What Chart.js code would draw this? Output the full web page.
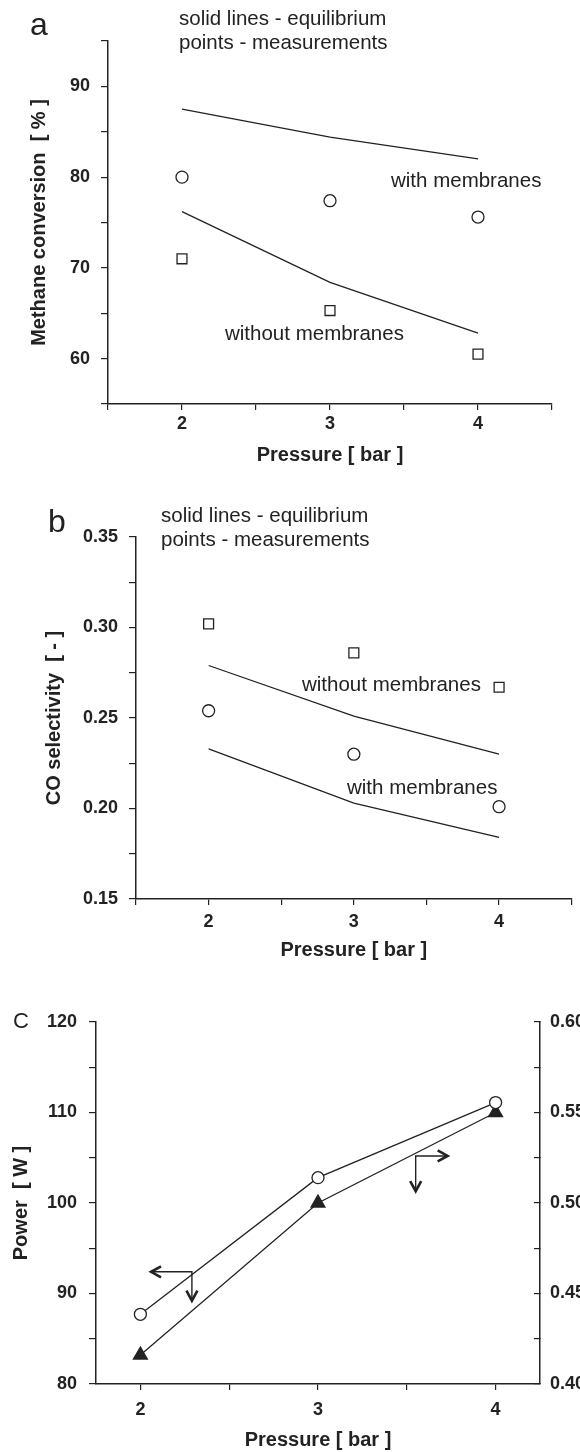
<!DOCTYPE html>
<html>
<head>
<meta charset="utf-8">
<script src="https://cdn.jsdelivr.net/npm/chart.js@4.4.1/dist/chart.umd.min.js"></script>
<style>
  html, body { margin: 0; padding: 0; background: #fff; }
  .panel { width: 580px; overflow: hidden; }
  canvas { display: block; }
</style>
</head>
<body>
<div class="panel" style="height:470px"><canvas id="chartA" width="580" height="470"></canvas></div>
<div class="panel" style="height:492px"><canvas id="chartB" width="580" height="492"></canvas></div>
<div class="panel" style="height:490px"><canvas id="chartC" width="640" height="490"></canvas></div>
<script>
// pressure points shared by all three panels [bar]
const pressure = [2, 3, 4];

// (a) methane conversion [%]
const convEqWith = [87.5, 84.4, 82.0];
const convEqWithout = [76.2, 68.4, 62.8];
const convMeasWith = [80.0, 77.4, 75.6];
const convMeasWithout = [71.0, 65.3, 60.5];

// (b) CO selectivity [-]
const selEqWithout = [0.279, 0.251, 0.230];
const selEqWith = [0.233, 0.203, 0.184];
const selMeasWithout = [0.302, 0.286, 0.267];
const selMeasWith = [0.254, 0.230, 0.201];

// (c) power [W] on the left axis, second quantity on the right axis
const powerW = [87.7, 102.8, 111.1];
const rightValues = [0.416, 0.500, 0.550];

// ticks and their labels
const xTicksAB = [1.5, 2, 2.5, 3, 3.5, 4, 4.5];
const xLabelsAB = ['', '2', '', '3', '', '4', ''];
const xTicksC = [2, 2.5, 3, 3.5, 4];
const xLabelsC = ['2', '', '3', '', '4'];
const yTicksA = [55, 60, 65, 70, 75, 80, 85, 90, 95];
const yLabelsA = ['', '60', '', '70', '', '80', '', '90', ''];
const yTicksB = [0.15, 0.175, 0.2, 0.225, 0.25, 0.275, 0.3, 0.325, 0.35];
const yLabelsB = ['0.15', '', '0.20', '', '0.25', '', '0.30', '', '0.35'];
const yTicksC = [80, 85, 90, 95, 100, 105, 110, 115, 120];
const yLabelsC = ['80', '', '90', '', '100', '', '110', '', '120'];
const y2TicksC = [0.4, 0.425, 0.45, 0.475, 0.5, 0.525, 0.55, 0.575, 0.6];
const y2LabelsC = ['0.40', '', '0.45', '', '0.50', '', '0.55', '', '0.60'];

// arrows in panel c (data units): corner, horizontal end, vertical end
const arrowsC = [
    { x: 2.29, y: 92.4, toX: 2.06, toY: 89.2 },
    { x: 3.55, y: 105.2, toX: 3.73, toY: 101.3 },
];

const ink = '#222';
const family = "'Liberation Sans', Arial, Helvetica, sans-serif";
const tickFont = { family, size: 18, weight: 'bold' };
const titleFont = { family, size: 20, weight: 'bold' };
const noteFont = `20.5px ${family}`;

// free text on each panel (canvas pixels, alphabetic baseline)
const notesA = [
    { text: 'a', x: 30, y: 35, font: `32px ${family}` },
    { text: 'solid lines - equilibrium', x: 179, y: 25 },
    { text: 'points - measurements', x: 179, y: 49 },
    { text: 'with membranes', x: 391, y: 187 },
    { text: 'without membranes', x: 225, y: 340 },
];
const notesB = [
    { text: 'b', x: 48, y: 62, font: `32px ${family}` },
    { text: 'solid lines - equilibrium', x: 161, y: 52 },
    { text: 'points - measurements', x: 161, y: 76 },
    { text: 'without membranes', x: 302, y: 221 },
    { text: 'with membranes', x: 347, y: 324 },
];
const notesC = [
    { text: 'C', x: 13, y: 66, font: `22px ${family}` },
];

function pts(values) {
    return pressure.map((p, i) => ({ x: p, y: values[i] }));
}

function lineSet(values, yAxisID = 'y') {
    return { data: pts(values), showLine: true, borderColor: ink, borderWidth: 1.3, pointRadius: 0, yAxisID };
}

function markSet(values, style, radius, fill, showLine, yAxisID = 'y') {
    return {
        data: pts(values), showLine, borderColor: ink, borderWidth: 1.3,
        pointStyle: style, pointRadius: radius, pointBackgroundColor: fill,
        pointBorderColor: ink, pointBorderWidth: 1.3, yAxisID,
    };
}

function axis(o) {
    const vertical = o.position === 'left' || o.position === 'right';
    return {
        type: 'linear',
        position: o.position,
        min: o.min,
        max: o.max,
        afterBuildTicks: s => { s.ticks = o.ticks.map(v => ({ value: v })); },
        afterFit: s => { if (vertical) s.width = o.size; else s.height = o.size; },
        ticks: {
            autoSkip: false, maxRotation: 0, padding: o.pad, color: ink, font: tickFont,
            callback: (v, i) => o.labels[i],
        },
        grid: { drawOnChartArea: false, drawTicks: true, tickLength: o.tickLength ?? 6, color: ink, lineWidth: 1.2 },
        border: { display: true, color: ink, width: 1.5 },
        title: o.title
            ? { display: true, text: o.title, color: ink, font: titleFont, padding: o.titlePad }
            : { display: false },
    };
}

function notesPlugin(notes) {
    return {
        id: 'notes',
        afterDraw(chart) {
            const ctx = chart.ctx;
            ctx.save();
            ctx.fillStyle = ink;
            ctx.textAlign = 'left';
            ctx.textBaseline = 'alphabetic';
            notes.forEach(n => {
                ctx.font = n.font || noteFont;
                ctx.fillText(n.text, n.x, n.y);
            });
            ctx.restore();
        }
    };
}

// bold open arrow head pointing along (dx, dy)
function arrowHead(ctx, x, y, dx, dy) {
    const len = 10, half = 5.5;
    ctx.beginPath();
    ctx.moveTo(x - dx * len - dy * half, y - dy * len + dx * half);
    ctx.lineTo(x, y);
    ctx.lineTo(x - dx * len + dy * half, y - dy * len - dx * half);
    ctx.lineWidth = 2.6;
    ctx.lineJoin = 'miter';
    ctx.stroke();
}

const arrowPlugin = {
    id: 'arrows',
    afterDatasetsDraw(chart) {
        const { ctx, scales: { x, y } } = chart;
        ctx.save();
        ctx.strokeStyle = ink;
        arrowsC.forEach(a => {
            const px = x.getPixelForValue(a.x), py = y.getPixelForValue(a.y);
            const hx = x.getPixelForValue(a.toX), vy = y.getPixelForValue(a.toY);
            ctx.lineWidth = 1.4;
            ctx.beginPath();
            ctx.moveTo(hx, py);
            ctx.lineTo(px, py);
            ctx.lineTo(px, vy);
            ctx.stroke();
            arrowHead(ctx, hx, py, Math.sign(hx - px), 0);
            arrowHead(ctx, px, vy, 0, 1);
        });
        ctx.restore();
    }
};

const baseOptions = {
    responsive: false,
    animation: false,
    devicePixelRatio: 1,
    events: [],
    plugins: { legend: { display: false }, tooltip: { enabled: false } },
};

// (a) methane conversion
new Chart(document.getElementById('chartA'), {
    type: 'scatter',
    data: {
        datasets: [
            lineSet(convEqWith),
            lineSet(convEqWithout),
            markSet(convMeasWith, 'circle', 6, '#fff', false),
            markSet(convMeasWithout, 'rect', 7, '#fff', false),
        ]
    },
    options: {
        ...baseOptions,
        layout: { padding: { top: 41, right: 28, left: 0, bottom: 0 } },
        scales: {
            x: axis({ position: 'bottom', min: 1.5, max: 4.5, ticks: xTicksAB, labels: xLabelsAB, size: 66, pad: 3,
                      title: 'Pressure [ bar ]', titlePad: { top: 0, bottom: 3 } }),
            y: axis({ position: 'left', min: 55, max: 95, ticks: yTicksA, labels: yLabelsA, size: 108, pad: 11, tickLength: 7,
                      title: 'Methane conversion  [ % ]', titlePad: { top: 27, bottom: 0 } }),
        }
    },
    plugins: [notesPlugin(notesA)]
});

// (b) CO selectivity
new Chart(document.getElementById('chartB'), {
    type: 'scatter',
    data: {
        datasets: [
            lineSet(selEqWithout),
            lineSet(selEqWith),
            markSet(selMeasWithout, 'rect', 7, '#fff', false),
            markSet(selMeasWith, 'circle', 6, '#fff', false),
        ]
    },
    options: {
        ...baseOptions,
        layout: { padding: { top: 67, right: 0, left: 0, bottom: 0 } },
        scales: {
            x: axis({ position: 'bottom', min: 1.5, max: 4.5, ticks: xTicksAB, labels: xLabelsAB, size: 63, pad: 6,
                      title: 'Pressure [ bar ]', titlePad: { top: 0, bottom: 0 } }),
            y: axis({ position: 'left', min: 0.15, max: 0.35, ticks: yTicksB, labels: yLabelsB, size: 136, pad: 11, tickLength: 7,
                      title: 'CO selectivity  [ - ]', titlePad: { top: 42, bottom: 0 } }),
        }
    },
    plugins: [notesPlugin(notesB)]
});

// (c) power, with a second axis on the right
new Chart(document.getElementById('chartC'), {
    type: 'scatter',
    data: {
        datasets: [
            markSet(powerW, 'circle', 6, '#fff', true, 'y'),
            markSet(rightValues, 'triangle', 8, ink, true, 'y2'),
        ]
    },
    options: {
        ...baseOptions,
        layout: { padding: { top: 60, right: 0, left: 0, bottom: 0 } },
        scales: {
            x: axis({ position: 'bottom', min: 1.75, max: 4.25, ticks: xTicksC, labels: xLabelsC, size: 68, pad: 9,
                      title: 'Pressure [ bar ]', titlePad: { top: 0, bottom: 0 } }),
            y: axis({ position: 'left', min: 80, max: 120, ticks: yTicksC, labels: yLabelsC, size: 96, pad: 12, tickLength: 7,
                      title: 'Power  [ W ]', titlePad: { top: 9, bottom: 0 } }),
            y2: axis({ position: 'right', min: 0.4, max: 0.6, ticks: y2TicksC, labels: y2LabelsC, size: 100, pad: 16, tickLength: -6 }),
        }
    },
    plugins: [notesPlugin(notesC), arrowPlugin]
});
</script>
</body>
</html>
